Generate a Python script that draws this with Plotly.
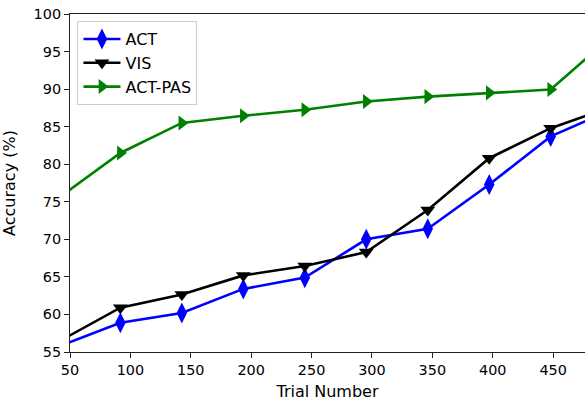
import plotly.graph_objects as go

trials = [40.8, 91.7, 142.6, 193.5, 244.4, 295.3, 346.2, 397.1, 448.0, 498.9]
act = [55.75, 58.9, 60.2, 63.4, 64.9, 70.0, 71.4, 77.3, 83.7, 87.3]
vis = [56.4, 60.9, 62.65, 65.2, 66.45, 68.3, 73.9, 80.8, 84.8, 87.7]
act_pas = [75.55, 81.5, 85.5, 86.45, 87.25, 88.35, 89.0, 89.5, 89.95, 97.1]

x_ticks = [50, 100, 150, 200, 250, 300, 350, 400, 450]
y_ticks = [55, 60, 65, 70, 75, 80, 85, 90, 95, 100]

fig = go.Figure()
series = [
    ("ACT", act, "#0000ff", "diamond-tall", 15),
    ("VIS", vis, "#000000", "triangle-down", 13),
    ("ACT-PAS", act_pas, "#008000", "triangle-right", 13),
]
for name, vals, color, sym, size in series:
    fig.add_trace(go.Scatter(
        x=trials, y=vals, name=name, mode="lines+markers",
        line=dict(color=color, width=2.6),
        marker=dict(symbol=sym, size=size, color=color, line=dict(width=0)),
        cliponaxis=True,
    ))

fig.update_layout(
    width=585, height=401,
    margin=dict(l=69.5, r=0, t=14, b=49),
    paper_bgcolor="white", plot_bgcolor="white",
    font=dict(family="DejaVu Sans", size=14, color="black"),
    showlegend=True,
    legend=dict(
        x=0.0145, y=0.979, xanchor="left", yanchor="top",
        bgcolor="rgba(255,255,255,0.8)", bordercolor="#cccccc", borderwidth=1,
        font=dict(size=16), tracegroupgap=0, itemwidth=37,
    ),
)
fig.update_xaxes(
    range=[50, 476.4], tickvals=x_ticks, ticktext=[str(v) for v in x_ticks],
    showgrid=False, zeroline=False, showline=True, linecolor="#222", linewidth=1.1,
    mirror=True, ticks="outside", ticklen=5, tickwidth=1.1, tickcolor="#222",
    title=dict(text="Trial Number", font=dict(size=16)),
    tickfont=dict(size=14.4), automargin=False,
)
fig.update_yaxes(
    range=[55, 100], tickvals=y_ticks, ticktext=[str(v) for v in y_ticks],
    showgrid=False, zeroline=False, showline=True, linecolor="#222", linewidth=1.1,
    ticks="outside", ticklen=5, tickwidth=1.1, tickcolor="#222",
    title=dict(text="Accuracy (%)", font=dict(size=16)),
    tickfont=dict(size=14.4), automargin=False,
)

fig.write_html(
    "out.html",
    config={"displayModeBar": False},
    post_script="document.body.style.margin='0';document.body.style.overflow='hidden';",
)
